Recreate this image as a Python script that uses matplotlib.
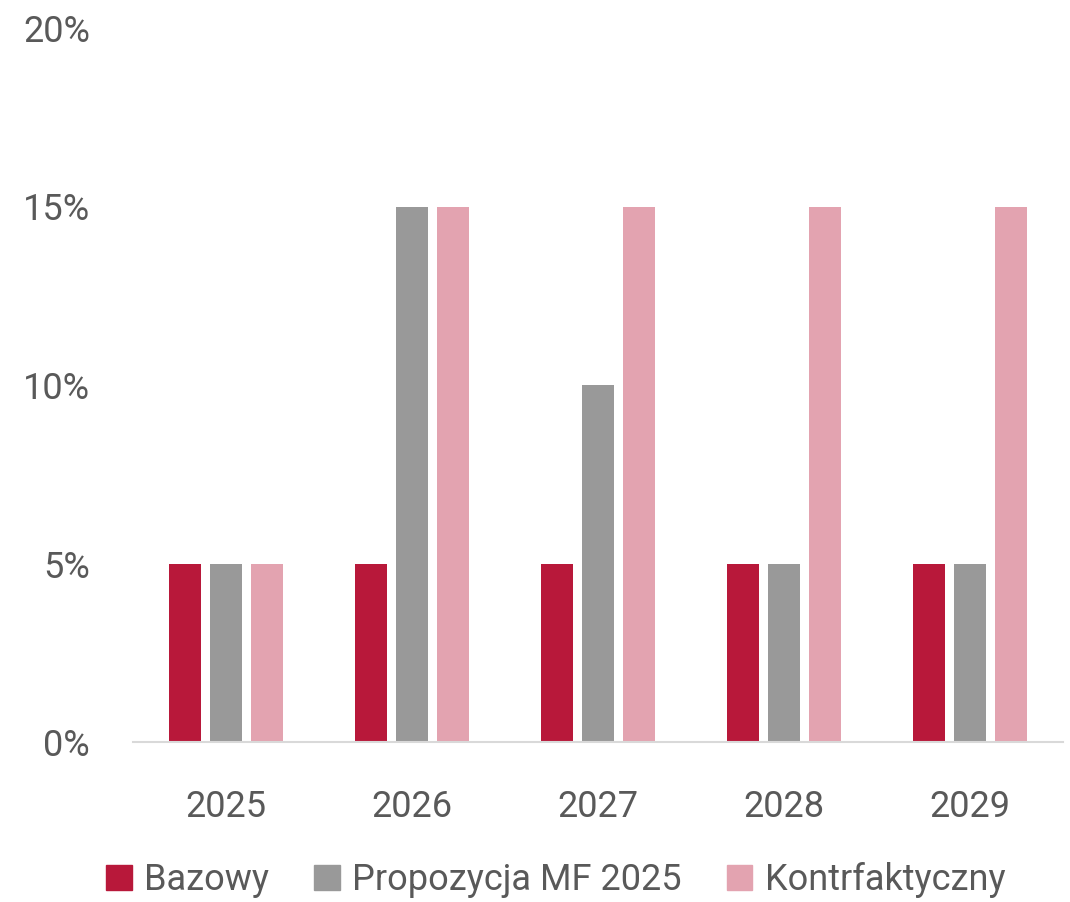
import matplotlib
matplotlib.use("Agg")
import matplotlib.pyplot as plt
import numpy as np
from matplotlib.patches import Patch

categories = ["2025", "2026", "2027", "2028", "2029"]
series_names = ["Bazowy", "Propozycja MF 2025", "Kontrfaktyczny"]
bazowy = [5, 5, 5, 5, 5]
propozycja = [5, 15, 10, 5, 5]
kontrfaktyczny = [5, 15, 15, 15, 15]
colors = ["#B8183A", "#999999", "#E3A3B0"]
yticks = [0, 5, 10, 15, 20]

plt.rcParams['font.family'] = ['Roboto', 'DejaVu Sans']
fig = plt.figure(figsize=(10.70, 9.02), dpi=100)
ax = fig.add_axes([133/1070, 1-742/902, (1063-133)/1070, (742-28)/902])

x = np.arange(len(categories))
w = 0.173
step = 0.221
for i, (vals, c) in enumerate(zip([bazowy, propozycja, kontrfaktyczny], colors)):
    ax.bar(x + (i-1)*step, vals, width=w, color=c, zorder=2)

ax.set_xlim(-0.5, len(categories)-0.5)
ax.set_ylim(0, 20)
ax.set_yticks(yticks)
ax.set_yticklabels([f"{t}%" for t in yticks])
ax.set_xticks(x)
ax.set_xticklabels(categories)
for s in ["top", "right", "left"]:
    ax.spines[s].set_visible(False)
ax.spines["bottom"].set_color("#D9D9D9")
ax.spines["bottom"].set_linewidth(1.5)
ax.tick_params(axis="both", length=0, labelsize=26, colors="#595959")
ax.tick_params(axis="y", pad=31)
ax.tick_params(axis="x", pad=34)

handles = [Patch(color=c) for c in colors]
leg = fig.legend(handles, series_names, loc="center", bbox_to_anchor=(556/1070, 1-880/902),
                 ncol=3, frameon=False, fontsize=26, handlelength=0.7, handleheight=0.7,
                 handletextpad=0.35, columnspacing=1.25)
for t in leg.get_texts():
    t.set_color("#595959")

fig.savefig("out.png", dpi=100)
